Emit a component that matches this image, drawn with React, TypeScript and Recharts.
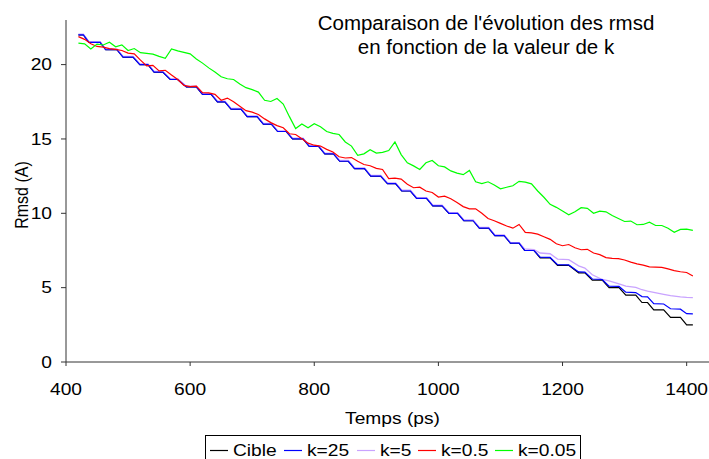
// Comparaison de l'évolution des rmsd selon k — line chart, Excel-style look.
// Stair series (Cible, k=25, k=5) carry their own time points; the two
// smoother runs (k=0.5, k=0.05) share a 10 ps grid.

import { LineChart, Line, XAxis, YAxis, Legend } from "recharts";

const FONT = '"Liberation Sans", Arial, sans-serif';
// the original axis text is stretched horizontally (~1.2x)
const STRETCH = 1.2;

// --- 10 ps grid: k=0.5 and k=0.05 ---
const times = [
  420, 430, 440, 450, 460, 470, 480, 490, 500, 510,
  520, 530, 540, 550, 560, 570, 580, 590, 600, 610,
  620, 630, 640, 650, 660, 670, 680, 690, 700, 710,
  720, 730, 740, 750, 760, 770, 780, 790, 800, 810,
  820, 830, 840, 850, 860, 870, 880, 890, 900, 910,
  920, 930, 940, 950, 960, 970, 980, 990, 1000, 1010,
  1020, 1030, 1040, 1050, 1060, 1070, 1080, 1090, 1100, 1110,
  1120, 1130, 1140, 1150, 1160, 1170, 1180, 1190, 1200, 1210,
  1220, 1230, 1240, 1250, 1260, 1270, 1280, 1290, 1300, 1310,
  1320, 1330, 1340, 1350, 1360, 1370, 1380, 1390, 1400, 1410,
];

const rmsdK05 = [
  21.88, 21.7, 21.4, 21.22, 21.17, 21.08, 21.02, 20.95, 20.77, 20.72,
  20.3, 19.91, 19.95, 19.58, 19.62, 19.3, 19.0, 18.6, 18.52, 18.55,
  18.12, 18.1, 18.0, 17.6, 17.75, 17.5, 17.2, 16.9, 16.8, 16.65,
  16.35, 16.1, 15.9, 15.75, 15.35, 15.3, 15.02, 14.72, 14.58, 14.52,
  14.3, 14.12, 13.8, 13.72, 13.75, 13.5, 13.28, 13.2, 13.02, 12.95,
  12.33, 12.37, 12.3, 11.95, 11.72, 11.76, 11.5, 11.4, 11.09, 11.15,
  10.98, 10.72, 10.45, 10.3, 10.3, 10.0, 9.65, 9.5, 9.32, 9.15,
  9.0, 9.25, 8.72, 8.68, 8.6, 8.42, 8.25, 7.95, 7.82, 7.9,
  7.68, 7.55, 7.58, 7.33, 7.22, 7.02, 6.97, 6.95, 6.86, 6.72,
  6.6, 6.52, 6.4, 6.38, 6.36, 6.26, 6.15, 6.07, 6.02, 5.78,
];

const rmsdK005 = [
  21.45, 21.4, 21.05, 21.38, 21.32, 21.5, 21.2, 21.33, 20.95, 21.08,
  20.8, 20.75, 20.7, 20.55, 20.42, 21.05, 20.92, 20.82, 20.72, 20.38,
  20.1, 19.78, 19.5, 19.18, 19.05, 19.0, 18.7, 18.45, 18.32, 18.15,
  17.6, 17.52, 17.72, 17.35, 16.5, 15.7, 16.0, 15.75, 16.03, 15.82,
  15.5, 15.38, 15.3, 14.8, 14.52, 13.9, 14.0, 14.28, 14.05, 14.1,
  14.22, 14.8, 13.95, 13.4, 13.19, 12.95, 13.4, 13.55, 13.2, 13.12,
  12.85, 12.7, 12.6, 12.88, 12.12, 12.0, 12.12, 11.9, 11.65, 11.75,
  11.85, 12.15, 12.1, 11.98, 11.5, 11.08, 10.6, 10.4, 10.15, 9.9,
  10.1, 10.38, 10.33, 10.0, 10.15, 10.1, 9.85, 9.65, 9.45, 9.48,
  9.23, 9.25, 9.4, 9.18, 9.18, 9.0, 8.72, 8.92, 8.94, 8.85,
];

// --- stair corners (start / end of each flat): Cible, k=25, k=5 ---
const stairTimes = [
  420, 428, 437, 455, 464, 482, 492, 508, 519, 532,
  542, 556, 568, 580, 594, 610, 620, 634, 644, 656,
  666, 682, 692, 708, 718, 731, 741, 755, 765, 782,
  792, 807, 817, 831, 841, 855, 865, 881, 891, 907,
  918, 931, 941, 955, 965, 981, 991, 1006, 1017, 1031,
  1041, 1056, 1066, 1081, 1091, 1106, 1116, 1130, 1139, 1154,
  1164, 1180, 1192, 1210, 1226, 1236, 1248, 1264, 1275, 1291,
  1302, 1318, 1328, 1337, 1347, 1363, 1374, 1390, 1400, 1410,
];

const rmsdCible = [
  22, 22, 21.5, 21.5, 21, 21, 20.5, 20.5, 20, 20,
  19.5, 19.5, 19, 19, 18.5, 18.5, 18, 18, 17.5, 17.5,
  17, 17, 16.5, 16.5, 16, 16, 15.5, 15.5, 15, 15,
  14.5, 14.5, 14, 14, 13.5, 13.5, 13, 13, 12.5, 12.5,
  12, 12, 11.5, 11.5, 11, 11, 10.5, 10.5, 10, 10,
  9.5, 9.5, 9, 9, 8.5, 8.5, 8, 8, 7.5, 7.5,
  7, 7, 6.5, 6.5, 6, 6, 5.5, 5.5, 5, 5,
  4.5, 4.5, 4, 4, 3.5, 3.5, 3, 3, 2.5, 2.5,
];

const rmsdK25 = [
  22, 22, 21.5, 21.5, 21, 21, 20.5, 20.5, 20, 20,
  19.5, 19.5, 19, 19, 18.5, 18.5, 18, 18, 17.5, 17.5,
  17, 17, 16.5, 16.5, 16, 16, 15.5, 15.5, 15, 15,
  14.5, 14.5, 14, 14, 13.5, 13.5, 13, 13, 12.5, 12.5,
  12, 12, 11.5, 11.5, 11, 11, 10.5, 10.5, 10, 10,
  9.5, 9.5, 9, 9, 8.5, 8.5, 8, 8, 7.5, 7.5,
  7.05, 7.03, 6.55, 6.53, 6.06, 6.05, 5.58, 5.55, 5.1, 5.08,
  4.7, 4.67, 4.4, 4.38, 3.93, 3.9, 3.58, 3.55, 3.25, 3.24,
];

const rmsdK5 = [
  22.05, 22.05, 21.55, 21.55, 21.05, 21.05, 20.55, 20.55, 20.05, 20.05,
  19.55, 19.55, 19.05, 19.05, 18.55, 18.55, 18.05, 18.05, 17.55, 17.55,
  17.05, 17.05, 16.55, 16.55, 16.05, 16.05, 15.55, 15.55, 15.05, 15.05,
  14.55, 14.55, 14.05, 14.05, 13.55, 13.55, 13.05, 13.05, 12.55, 12.55,
  12.05, 12.05, 11.55, 11.55, 11.05, 11.05, 10.55, 10.55, 10.05, 10.05,
  9.55, 9.55, 9.05, 9.05, 8.55, 8.55, 8.05, 8.03, 7.6, 7.55,
  7.33, 7.28, 6.92, 6.88, 6.47, 6.32, 5.87, 5.55, 5.45, 5.25,
  5.1, 5.02, 4.86, 4.76, 4.68, 4.55, 4.46, 4.38, 4.35, 4.33,
];

const xTicks = [400, 600, 800, 1000, 1200, 1400];
const yTicks = [0, 5, 10, 15, 20];

// legend order (drawing order differs slightly so k=25 sits over k=5)
const SERIES = [
  { key: "cible", name: "Cible", color: "#000000" },
  { key: "k25", name: "k=25", color: "#0000FF" },
  { key: "k5", name: "k=5", color: "#C9A3FF" },
  { key: "k05", name: "k=0.5", color: "#FF0000" },
  { key: "k005", name: "k=0.05", color: "#00FF00" },
];

const stairData = stairTimes.map((t, i) => ({
  t,
  cible: rmsdCible[i],
  k25: rmsdK25[i],
  k5: rmsdK5[i],
}));

const gridData = times.map((t, i) => ({ t, k05: rmsdK05[i], k005: rmsdK005[i] }));

const colorOf = (key: string) => SERIES.find((s) => s.key === key)!.color;

function XTick({ x, y, payload }: any) {
  return (
    <text
      transform={`translate(${x},${y + 27}) scale(${STRETCH},1)`}
      textAnchor="middle"
      fontSize={16}
      fontFamily={FONT}
      fill="#000"
    >
      {payload.value}
    </text>
  );
}

function YTick({ x, y, payload }: any) {
  return (
    <text
      transform={`translate(${x},${y + 5.8}) scale(${STRETCH},1)`}
      textAnchor="end"
      fontSize={16}
      fontFamily={FONT}
      fill="#000"
    >
      {payload.value}
    </text>
  );
}

function XTitle({ viewBox }: any) {
  const vb = viewBox ?? { x: 66, y: 362, width: 643 };
  return (
    <text
      transform={`translate(${vb.x + vb.width / 2 + 5},${vb.y + 61.5}) scale(${STRETCH},1)`}
      textAnchor="middle"
      fontSize={16}
      fontFamily={FONT}
      fill="#000"
    >
      Temps (ps)
    </text>
  );
}

function YTitle({ viewBox }: any) {
  const vb = viewBox ?? { x: 0, y: 20, height: 342 };
  return (
    <text
      transform={`translate(${vb.x + 27.5},${vb.y + vb.height / 2 + 4}) scale(${STRETCH},1) rotate(-90)`}
      textAnchor="middle"
      fontSize={16}
      fontFamily={FONT}
      fill="#000"
    >
      Rmsd (A)
    </text>
  );
}

// Excel legend box: sample line + label per series, boxed
const LEGEND_SLOTS = [5, 79, 152, 213, 290];

function LegendBox() {
  return (
    <svg width={377} height={40} style={{ display: "block" }}>
      <rect x={0.5} y={0.5} width={375} height={39} fill="#fff" stroke="#000" />
      {SERIES.map((s, i) => {
        const x0 = LEGEND_SLOTS[i];
        return (
          <g key={s.key}>
            <line x1={x0} x2={x0 + 18} y1={15.5} y2={15.5} stroke={s.color} strokeWidth={1.2} />
            <text
              transform={`translate(${x0 + 23},${21}) scale(${STRETCH},1)`}
              fontSize={16}
              fontFamily={FONT}
              fill="#000"
            >
              {s.name}
            </text>
          </g>
        );
      })}
    </svg>
  );
}

export default function App() {
  return (
    <div style={{ position: "relative", width: 709, height: 459, overflow: "hidden", background: "#fff" }}>
      <style>{"body{margin:0}"}</style>
      <LineChart width={709} height={459} margin={{ top: 20, right: 0, bottom: 67, left: 0 }}>
        <XAxis
          type="number"
          dataKey="t"
          domain={[400, 1436]}
          ticks={xTicks}
          height={30}
          tickSize={4}
          tickMargin={2}
          stroke="#333"
          axisLine={{ stroke: "#333" }}
          tickLine={{ stroke: "#333" }}
          tick={<XTick />}
          label={<XTitle />}
          allowDataOverflow
        />
        <YAxis
          type="number"
          domain={[0, 23]}
          ticks={yTicks}
          width={66}
          tickSize={5}
          tickMargin={9}
          stroke="#333"
          axisLine={{ stroke: "#333" }}
          tickLine={{ stroke: "#333" }}
          tick={<YTick />}
          label={<YTitle />}
          allowDataOverflow
        />
        <Line data={stairData} dataKey="cible" name="Cible" stroke={colorOf("cible")} strokeWidth={1.2} dot={false} isAnimationActive={false} />
        <Line data={stairData} dataKey="k5" name="k=5" stroke={colorOf("k5")} strokeWidth={1.3} dot={false} isAnimationActive={false} />
        <Line data={stairData} dataKey="k25" name="k=25" stroke={colorOf("k25")} strokeWidth={1.2} dot={false} isAnimationActive={false} />
        <Line data={gridData} dataKey="k05" name="k=0.5" stroke={colorOf("k05")} strokeWidth={1.2} dot={false} isAnimationActive={false} />
        <Line data={gridData} dataKey="k005" name="k=0.05" stroke={colorOf("k005")} strokeWidth={1.2} dot={false} isAnimationActive={false} />
        <Legend
          verticalAlign="middle"
          align="center"
          content={<LegendBox />}
          wrapperStyle={{ position: "absolute", left: 205, top: 435, width: 377, height: 40, margin: 0 }}
        />
      </LineChart>
      <div
        style={{
          position: "absolute",
          left: 286,
          top: 10.5,
          width: 400,
          textAlign: "center",
          fontFamily: FONT,
          fontSize: 20.5,
          lineHeight: "24px",
          color: "#000",
        }}
      >
        Comparaison de l'évolution des rmsd
        <br />
        en fonction de la valeur de k
      </div>
    </div>
  );
}
